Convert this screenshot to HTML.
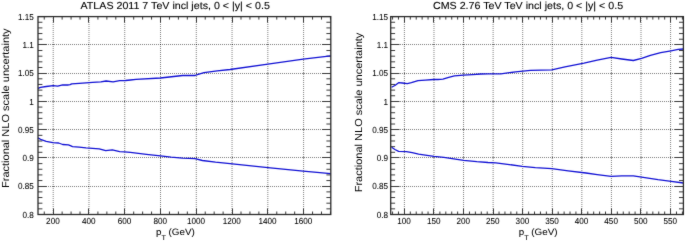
<!DOCTYPE html>
<html><head><meta charset="utf-8"><style>
html,body{margin:0;padding:0;background:#fff;width:685px;height:243px;overflow:hidden}
svg{display:block;}
text{font-family:"Liberation Sans", Arial, Helvetica, sans-serif;fill:#000;text-rendering:geometricPrecision}
.tl{font-size:8.75px;stroke:#000;stroke-width:0.06px}
.title{font-size:10.2px;stroke:#000;stroke-width:0.1px}
.ylab{font-size:10.2px;}
.xt{font-size:9.2px;stroke:#000;stroke-width:0.06px}
.sub{font-size:6.8px}
.grid{stroke:#000;stroke-width:1;stroke-dasharray:1 1;fill:none;opacity:.5}
.gint{fill:#000;opacity:.45}
.tick{stroke:#3a3a3a;stroke-width:1;fill:none}
.frame{stroke:#2a2a2a;stroke-width:1.3;fill:none}
.curve{stroke:#1010d4;stroke-width:1.3;fill:none;stroke-linejoin:round}
</style></head><body>
<svg width="685" height="243" viewBox="0 0 685 243">
<defs><filter id="soft" x="0" y="0" width="685" height="243" filterUnits="userSpaceOnUse" color-interpolation-filters="sRGB"><feConvolveMatrix order="3" kernelMatrix="0.015 0.06 0.015 0.06 0.7 0.06 0.015 0.06 0.015" edgeMode="duplicate" preserveAlpha="true"/></filter></defs><g filter="url(#soft)">
<rect width="685" height="243" fill="#fff"/>
<path d="M53.20 16V214.5M88.97 16V214.5M124.74 16V214.5M160.52 16V214.5M196.29 16V214.5M232.06 16V214.5M267.83 16V214.5M303.60 16V214.5M38 186.50H330.8M38 157.50H330.8M38 129.50H330.8M38 101.50H330.8M38 73.50H330.8M38 44.50H330.8" class="grid"/>
<path d="M53 186h1v1h-1zM53 157h1v1h-1zM53 129h1v1h-1zM53 101h1v1h-1zM53 73h1v1h-1zM53 44h1v1h-1zM88 186h1v1h-1zM88 157h1v1h-1zM88 129h1v1h-1zM88 101h1v1h-1zM88 73h1v1h-1zM88 44h1v1h-1zM124 186h1v1h-1zM124 157h1v1h-1zM124 129h1v1h-1zM124 101h1v1h-1zM124 73h1v1h-1zM124 44h1v1h-1zM160 186h1v1h-1zM160 157h1v1h-1zM160 129h1v1h-1zM160 101h1v1h-1zM160 73h1v1h-1zM160 44h1v1h-1zM196 186h1v1h-1zM196 157h1v1h-1zM196 129h1v1h-1zM196 101h1v1h-1zM196 73h1v1h-1zM196 44h1v1h-1zM232 186h1v1h-1zM232 157h1v1h-1zM232 129h1v1h-1zM232 101h1v1h-1zM232 73h1v1h-1zM232 44h1v1h-1zM267 186h1v1h-1zM267 157h1v1h-1zM267 129h1v1h-1zM267 101h1v1h-1zM267 73h1v1h-1zM267 44h1v1h-1zM303 186h1v1h-1zM303 157h1v1h-1zM303 129h1v1h-1zM303 101h1v1h-1zM303 73h1v1h-1zM303 44h1v1h-1z" class="gint"/>
<path d="M53.50 214.5v-6.0M53.50 16.6v6.0M88.50 214.5v-6.0M88.50 16.6v6.0M124.50 214.5v-6.0M124.50 16.6v6.0M160.50 214.5v-6.0M160.50 16.6v6.0M196.50 214.5v-6.0M196.50 16.6v6.0M232.50 214.5v-6.0M232.50 16.6v6.0M267.50 214.5v-6.0M267.50 16.6v6.0M303.50 214.5v-6.0M303.50 16.6v6.0M44.26 214.5v-3.0M44.26 16.6v3.0M62.14 214.5v-3.0M62.14 16.6v3.0M71.09 214.5v-3.0M71.09 16.6v3.0M80.03 214.5v-3.0M80.03 16.6v3.0M97.91 214.5v-3.0M97.91 16.6v3.0M106.86 214.5v-3.0M106.86 16.6v3.0M115.80 214.5v-3.0M115.80 16.6v3.0M133.69 214.5v-3.0M133.69 16.6v3.0M142.63 214.5v-3.0M142.63 16.6v3.0M151.57 214.5v-3.0M151.57 16.6v3.0M169.46 214.5v-3.0M169.46 16.6v3.0M178.40 214.5v-3.0M178.40 16.6v3.0M187.34 214.5v-3.0M187.34 16.6v3.0M205.23 214.5v-3.0M205.23 16.6v3.0M214.17 214.5v-3.0M214.17 16.6v3.0M223.12 214.5v-3.0M223.12 16.6v3.0M241.00 214.5v-3.0M241.00 16.6v3.0M249.95 214.5v-3.0M249.95 16.6v3.0M258.89 214.5v-3.0M258.89 16.6v3.0M276.77 214.5v-3.0M276.77 16.6v3.0M285.72 214.5v-3.0M285.72 16.6v3.0M294.66 214.5v-3.0M294.66 16.6v3.0M312.55 214.5v-3.0M312.55 16.6v3.0M321.49 214.5v-3.0M321.49 16.6v3.0M330.43 214.5v-3.0M330.43 16.6v3.0M38.0 214.50h8.8M330.8 214.50h-8.8M38.0 208.85h4.4M330.8 208.85h-4.4M38.0 203.19h4.4M330.8 203.19h-4.4M38.0 197.54h4.4M330.8 197.54h-4.4M38.0 191.88h4.4M330.8 191.88h-4.4M38.0 186.50h8.8M330.8 186.50h-8.8M38.0 180.57h4.4M330.8 180.57h-4.4M38.0 174.92h4.4M330.8 174.92h-4.4M38.0 169.27h4.4M330.8 169.27h-4.4M38.0 163.61h4.4M330.8 163.61h-4.4M38.0 157.50h8.8M330.8 157.50h-8.8M38.0 152.30h4.4M330.8 152.30h-4.4M38.0 146.65h4.4M330.8 146.65h-4.4M38.0 140.99h4.4M330.8 140.99h-4.4M38.0 135.34h4.4M330.8 135.34h-4.4M38.0 129.50h8.8M330.8 129.50h-8.8M38.0 124.03h4.4M330.8 124.03h-4.4M38.0 118.38h4.4M330.8 118.38h-4.4M38.0 112.72h4.4M330.8 112.72h-4.4M38.0 107.07h4.4M330.8 107.07h-4.4M38.0 101.50h8.8M330.8 101.50h-8.8M38.0 95.76h4.4M330.8 95.76h-4.4M38.0 90.11h4.4M330.8 90.11h-4.4M38.0 84.45h4.4M330.8 84.45h-4.4M38.0 78.80h4.4M330.8 78.80h-4.4M38.0 73.50h8.8M330.8 73.50h-8.8M38.0 67.49h4.4M330.8 67.49h-4.4M38.0 61.83h4.4M330.8 61.83h-4.4M38.0 56.18h4.4M330.8 56.18h-4.4M38.0 50.53h4.4M330.8 50.53h-4.4M38.0 44.50h8.8M330.8 44.50h-8.8M38.0 39.22h4.4M330.8 39.22h-4.4M38.0 33.56h4.4M330.8 33.56h-4.4M38.0 27.91h4.4M330.8 27.91h-4.4M38.0 22.25h4.4M330.8 22.25h-4.4M38.0 16.60h8.8M330.8 16.60h-8.8" class="tick"/>
<polyline points="38.0,88.4 40.5,87.3 46.2,86.5 53.2,85.6 57.7,86.2 62.7,84.8 67.6,85.0 70.1,84.6 71.7,83.8 79.1,83.3 86.0,82.9 92.6,82.4 100.8,81.9 106.1,81.0 113.1,81.9 119.7,80.6 125.5,80.5 130.4,80.0 136.0,79.4 160.4,78.0 182.6,75.5 195.0,75.5 197.4,74.7 204.0,72.6 217.2,70.9 230.0,69.5 267.9,64.2 303.2,59.2 330.7,55.9" class="curve"/>
<polyline points="38.0,137.9 41.3,139.7 46.2,141.3 52.8,142.6 58.6,143.0 62.7,144.5 68.4,144.8 70.9,145.9 72.5,146.7 79.1,147.1 86.0,147.9 92.6,148.4 99.2,148.9 105.7,150.6 112.3,149.8 119.7,151.6 124.7,151.8 130.4,152.4 146.4,154.3 160.4,155.9 171.1,157.2 182.6,158.1 195.0,158.7 202.4,160.5 215.5,162.2 230.0,163.7 267.9,167.6 303.2,171.2 330.7,173.7" class="curve"/>
<rect x="38.0" y="16.6" width="292.80" height="197.90" class="frame"/>
<text transform="translate(33.9 217.70) scale(0.93 1)" class="tl" text-anchor="end">0.8</text>
<text transform="translate(33.9 189.43) scale(0.93 1)" class="tl" text-anchor="end">0.85</text>
<text transform="translate(33.9 161.16) scale(0.93 1)" class="tl" text-anchor="end">0.9</text>
<text transform="translate(33.9 132.89) scale(0.93 1)" class="tl" text-anchor="end">0.95</text>
<text transform="translate(33.9 104.61) scale(0.93 1)" class="tl" text-anchor="end">1</text>
<text transform="translate(33.9 76.34) scale(0.93 1)" class="tl" text-anchor="end">1.05</text>
<text transform="translate(33.9 48.07) scale(0.93 1)" class="tl" text-anchor="end">1.1</text>
<text transform="translate(33.9 19.80) scale(0.93 1)" class="tl" text-anchor="end">1.15</text>
<text transform="translate(52.90 224.3) scale(0.93 1)" class="tl" text-anchor="middle">200</text>
<text transform="translate(88.67 224.3) scale(0.93 1)" class="tl" text-anchor="middle">400</text>
<text transform="translate(124.44 224.3) scale(0.93 1)" class="tl" text-anchor="middle">600</text>
<text transform="translate(160.22 224.3) scale(0.93 1)" class="tl" text-anchor="middle">800</text>
<text transform="translate(195.99 224.3) scale(0.93 1)" class="tl" text-anchor="middle">1000</text>
<text transform="translate(231.76 224.3) scale(0.93 1)" class="tl" text-anchor="middle">1200</text>
<text transform="translate(267.53 224.3) scale(0.93 1)" class="tl" text-anchor="middle">1400</text>
<text transform="translate(303.30 224.3) scale(0.93 1)" class="tl" text-anchor="middle">1600</text>
<text transform="translate(80.5 8.8) scale(1.047 1)" class="title">ATLAS 2011 7 TeV incl jets, 0 &lt; |y| &lt; 0.5</text>
<text transform="translate(9.2 188.0) rotate(-90) scale(1.08 1)" class="ylab">Fractional NLO scale uncertainty</text>
<text transform="translate(156.0 235.0) scale(1.07 1)" class="xt">p<tspan dy="5.1" class="sub">T</tspan><tspan dy="-5.1" dx="2.4">(GeV)</tspan></text>
<path d="M404.40 16V214.5M433.97 16V214.5M463.55 16V214.5M493.12 16V214.5M522.70 16V214.5M552.27 16V214.5M581.85 16V214.5M611.42 16V214.5M641.00 16V214.5M670.58 16V214.5M390 186.50H683.4M390 157.50H683.4M390 129.50H683.4M390 101.50H683.4M390 73.50H683.4M390 44.50H683.4" class="grid"/>
<path d="M404 186h1v1h-1zM404 157h1v1h-1zM404 129h1v1h-1zM404 101h1v1h-1zM404 73h1v1h-1zM404 44h1v1h-1zM433 186h1v1h-1zM433 157h1v1h-1zM433 129h1v1h-1zM433 101h1v1h-1zM433 73h1v1h-1zM433 44h1v1h-1zM463 186h1v1h-1zM463 157h1v1h-1zM463 129h1v1h-1zM463 101h1v1h-1zM463 73h1v1h-1zM463 44h1v1h-1zM493 186h1v1h-1zM493 157h1v1h-1zM493 129h1v1h-1zM493 101h1v1h-1zM493 73h1v1h-1zM493 44h1v1h-1zM522 186h1v1h-1zM522 157h1v1h-1zM522 129h1v1h-1zM522 101h1v1h-1zM522 73h1v1h-1zM522 44h1v1h-1zM552 186h1v1h-1zM552 157h1v1h-1zM552 129h1v1h-1zM552 101h1v1h-1zM552 73h1v1h-1zM552 44h1v1h-1zM581 186h1v1h-1zM581 157h1v1h-1zM581 129h1v1h-1zM581 101h1v1h-1zM581 73h1v1h-1zM581 44h1v1h-1zM611 186h1v1h-1zM611 157h1v1h-1zM611 129h1v1h-1zM611 101h1v1h-1zM611 73h1v1h-1zM611 44h1v1h-1zM641 186h1v1h-1zM641 157h1v1h-1zM641 129h1v1h-1zM641 101h1v1h-1zM641 73h1v1h-1zM641 44h1v1h-1zM670 186h1v1h-1zM670 157h1v1h-1zM670 129h1v1h-1zM670 101h1v1h-1zM670 73h1v1h-1zM670 44h1v1h-1z" class="gint"/>
<path d="M404.50 214.5v-6.0M404.50 16.6v6.0M433.50 214.5v-6.0M433.50 16.6v6.0M463.50 214.5v-6.0M463.50 16.6v6.0M493.50 214.5v-6.0M493.50 16.6v6.0M522.50 214.5v-6.0M522.50 16.6v6.0M552.50 214.5v-6.0M552.50 16.6v6.0M581.50 214.5v-6.0M581.50 16.6v6.0M611.50 214.5v-6.0M611.50 16.6v6.0M640.50 214.5v-6.0M640.50 16.6v6.0M670.50 214.5v-6.0M670.50 16.6v6.0M392.57 214.5v-3.0M392.57 16.6v3.0M398.48 214.5v-3.0M398.48 16.6v3.0M410.31 214.5v-3.0M410.31 16.6v3.0M416.23 214.5v-3.0M416.23 16.6v3.0M422.14 214.5v-3.0M422.14 16.6v3.0M428.06 214.5v-3.0M428.06 16.6v3.0M439.89 214.5v-3.0M439.89 16.6v3.0M445.80 214.5v-3.0M445.80 16.6v3.0M451.72 214.5v-3.0M451.72 16.6v3.0M457.63 214.5v-3.0M457.63 16.6v3.0M469.46 214.5v-3.0M469.46 16.6v3.0M475.38 214.5v-3.0M475.38 16.6v3.0M481.29 214.5v-3.0M481.29 16.6v3.0M487.21 214.5v-3.0M487.21 16.6v3.0M499.04 214.5v-3.0M499.04 16.6v3.0M504.95 214.5v-3.0M504.95 16.6v3.0M510.87 214.5v-3.0M510.87 16.6v3.0M516.78 214.5v-3.0M516.78 16.6v3.0M528.62 214.5v-3.0M528.62 16.6v3.0M534.53 214.5v-3.0M534.53 16.6v3.0M540.44 214.5v-3.0M540.44 16.6v3.0M546.36 214.5v-3.0M546.36 16.6v3.0M558.19 214.5v-3.0M558.19 16.6v3.0M564.11 214.5v-3.0M564.11 16.6v3.0M570.02 214.5v-3.0M570.02 16.6v3.0M575.93 214.5v-3.0M575.93 16.6v3.0M587.76 214.5v-3.0M587.76 16.6v3.0M593.68 214.5v-3.0M593.68 16.6v3.0M599.60 214.5v-3.0M599.60 16.6v3.0M605.51 214.5v-3.0M605.51 16.6v3.0M617.34 214.5v-3.0M617.34 16.6v3.0M623.25 214.5v-3.0M623.25 16.6v3.0M629.17 214.5v-3.0M629.17 16.6v3.0M635.09 214.5v-3.0M635.09 16.6v3.0M646.91 214.5v-3.0M646.91 16.6v3.0M652.83 214.5v-3.0M652.83 16.6v3.0M658.75 214.5v-3.0M658.75 16.6v3.0M664.66 214.5v-3.0M664.66 16.6v3.0M676.49 214.5v-3.0M676.49 16.6v3.0M682.40 214.5v-3.0M682.40 16.6v3.0M390.7 214.50h8.8M683.4 214.50h-8.8M390.7 208.85h4.4M683.4 208.85h-4.4M390.7 203.19h4.4M683.4 203.19h-4.4M390.7 197.54h4.4M683.4 197.54h-4.4M390.7 191.88h4.4M683.4 191.88h-4.4M390.7 186.50h8.8M683.4 186.50h-8.8M390.7 180.57h4.4M683.4 180.57h-4.4M390.7 174.92h4.4M683.4 174.92h-4.4M390.7 169.27h4.4M683.4 169.27h-4.4M390.7 163.61h4.4M683.4 163.61h-4.4M390.7 157.50h8.8M683.4 157.50h-8.8M390.7 152.30h4.4M683.4 152.30h-4.4M390.7 146.65h4.4M683.4 146.65h-4.4M390.7 140.99h4.4M683.4 140.99h-4.4M390.7 135.34h4.4M683.4 135.34h-4.4M390.7 129.50h8.8M683.4 129.50h-8.8M390.7 124.03h4.4M683.4 124.03h-4.4M390.7 118.38h4.4M683.4 118.38h-4.4M390.7 112.72h4.4M683.4 112.72h-4.4M390.7 107.07h4.4M683.4 107.07h-4.4M390.7 101.50h8.8M683.4 101.50h-8.8M390.7 95.76h4.4M683.4 95.76h-4.4M390.7 90.11h4.4M683.4 90.11h-4.4M390.7 84.45h4.4M683.4 84.45h-4.4M390.7 78.80h4.4M683.4 78.80h-4.4M390.7 73.50h8.8M683.4 73.50h-8.8M390.7 67.49h4.4M683.4 67.49h-4.4M390.7 61.83h4.4M683.4 61.83h-4.4M390.7 56.18h4.4M683.4 56.18h-4.4M390.7 50.53h4.4M683.4 50.53h-4.4M390.7 44.50h8.8M683.4 44.50h-8.8M390.7 39.22h4.4M683.4 39.22h-4.4M390.7 33.56h4.4M683.4 33.56h-4.4M390.7 27.91h4.4M683.4 27.91h-4.4M390.7 22.25h4.4M683.4 22.25h-4.4M390.7 16.60h8.8M683.4 16.60h-8.8" class="tick"/>
<polyline points="391.6,87.3 394.9,85.5 398.6,82.7 402.3,83.0 407.3,83.6 411.4,82.6 418.0,80.7 425.4,80.1 433.6,79.5 438.0,79.5 442.9,79.1 448.7,77.3 454.4,75.8 463.5,75.2 472.5,74.6 480.8,74.0 488.0,73.8 500.8,73.9 515.6,71.8 530.4,70.3 551.8,69.8 565.0,66.9 584.0,63.1 597.2,60.1 611.1,57.4 621.8,59.0 633.3,60.5 641.6,58.3 650.4,55.3 660.7,52.7 671.0,50.8 678.2,49.4 683.4,49.0" class="curve"/>
<polyline points="391.6,147.3 394.9,149.5 398.6,151.4 406.4,151.6 412.2,152.7 418.6,154.2 427.0,155.4 434.0,156.3 443.9,157.3 453.8,158.9 463.7,160.4 476.8,161.7 488.0,162.5 495.9,162.8 507.4,164.3 522.2,166.3 535.3,167.7 551.8,168.7 568.2,170.9 586.0,173.0 597.2,174.6 611.1,176.3 621.8,175.9 633.3,175.9 641.6,177.2 658.0,179.7 671.2,181.4 683.4,183.0" class="curve"/>
<rect x="390.7" y="16.6" width="292.70" height="197.90" class="frame"/>
<text transform="translate(388.0 217.70) scale(0.93 1)" class="tl" text-anchor="end">0.8</text>
<text transform="translate(388.0 189.43) scale(0.93 1)" class="tl" text-anchor="end">0.85</text>
<text transform="translate(388.0 161.16) scale(0.93 1)" class="tl" text-anchor="end">0.9</text>
<text transform="translate(388.0 132.89) scale(0.93 1)" class="tl" text-anchor="end">0.95</text>
<text transform="translate(388.0 104.61) scale(0.93 1)" class="tl" text-anchor="end">1</text>
<text transform="translate(388.0 76.34) scale(0.93 1)" class="tl" text-anchor="end">1.05</text>
<text transform="translate(388.0 48.07) scale(0.93 1)" class="tl" text-anchor="end">1.1</text>
<text transform="translate(388.0 19.80) scale(0.93 1)" class="tl" text-anchor="end">1.15</text>
<text transform="translate(404.10 224.3) scale(0.93 1)" class="tl" text-anchor="middle">100</text>
<text transform="translate(433.67 224.3) scale(0.93 1)" class="tl" text-anchor="middle">150</text>
<text transform="translate(463.25 224.3) scale(0.93 1)" class="tl" text-anchor="middle">200</text>
<text transform="translate(492.82 224.3) scale(0.93 1)" class="tl" text-anchor="middle">250</text>
<text transform="translate(522.40 224.3) scale(0.93 1)" class="tl" text-anchor="middle">300</text>
<text transform="translate(551.98 224.3) scale(0.93 1)" class="tl" text-anchor="middle">350</text>
<text transform="translate(581.55 224.3) scale(0.93 1)" class="tl" text-anchor="middle">400</text>
<text transform="translate(611.12 224.3) scale(0.93 1)" class="tl" text-anchor="middle">450</text>
<text transform="translate(640.70 224.3) scale(0.93 1)" class="tl" text-anchor="middle">500</text>
<text transform="translate(670.28 224.3) scale(0.93 1)" class="tl" text-anchor="middle">550</text>
<text transform="translate(433.0 8.8) scale(1.047 1)" class="title">CMS 2.76 TeV TeV incl jets, 0 &lt; |y| &lt; 0.5</text>
<text transform="translate(362.2 192.3) rotate(-90) scale(1.08 1)" class="ylab">Fractional NLO scale uncertainty</text>
<text transform="translate(518.8 235.0) scale(1.07 1)" class="xt">p<tspan dy="5.1" class="sub">T</tspan><tspan dy="-5.1" dx="2.4">(GeV)</tspan></text>
</g>
</svg>
</body></html>
